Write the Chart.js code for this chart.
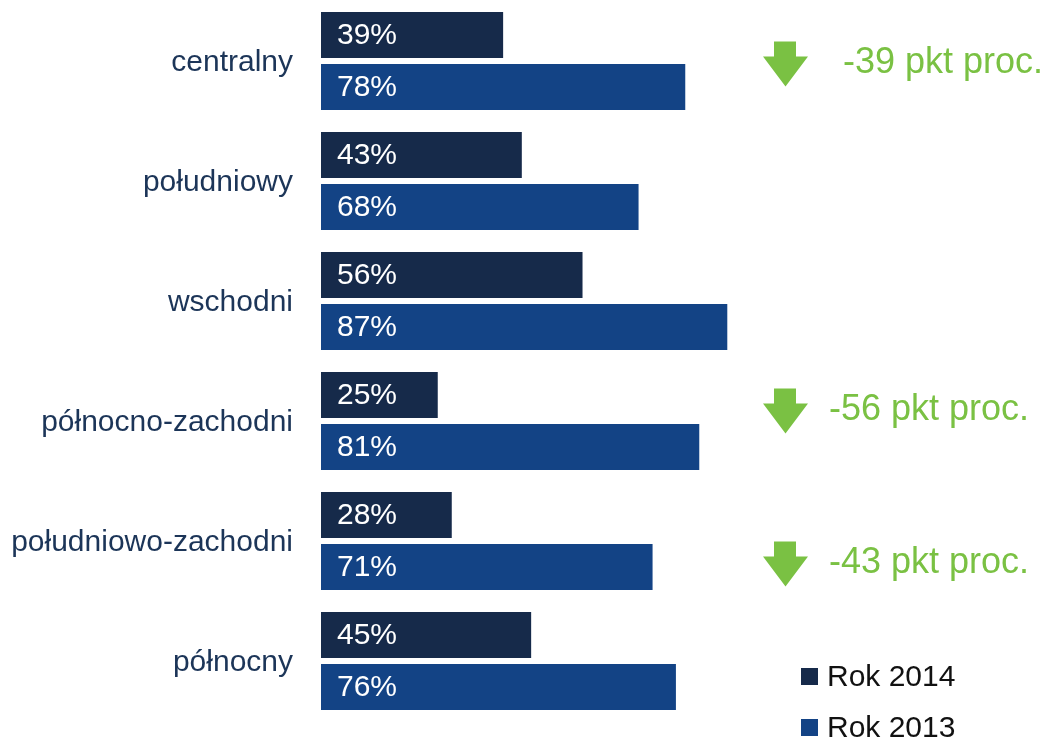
<!DOCTYPE html>
<html>
<head>
<meta charset="utf-8">
<script src="https://cdn.jsdelivr.net/npm/chart.js@4.4.0/dist/chart.umd.min.js"></script>
<style>
  html, body { margin: 0; padding: 0; background: #fff; }
  #wrap { width: 1045px; height: 741px; }
</style>
</head>
<body>
<div id="wrap"><canvas id="chart" width="1045" height="741"></canvas></div>
<script>
const regions = ["centralny", "południowy", "wschodni", "północno-zachodni", "południowo-zachodni", "północny"];
const rok2014 = [39, 43, 56, 25, 28, 45];
const rok2013 = [78, 68, 87, 81, 71, 76];
const changes = ["-39 pkt proc.", "", "", "-56 pkt proc.", "-43 pkt proc.", ""];

const FONT = "'Liberation Sans', Arial, sans-serif";
const GREEN = "#7ac143";

// where each change note sits, relative to its category centre
const notePos = {
  0: { dy: 3, textX: 843 },
  3: { dy: -10, textX: 829 },
  4: { dy: 23, textX: 829 }
};

const barLabels = {
  id: "barLabels",
  afterDatasetsDraw(chart) {
    const ctx = chart.ctx;
    ctx.save();
    ctx.fillStyle = "#fff";
    ctx.font = "30px " + FONT;
    ctx.textBaseline = "middle";
    ctx.textAlign = "left";
    chart.data.datasets.forEach(function (ds, i) {
      chart.getDatasetMeta(i).data.forEach(function (bar, j) {
        ctx.fillText(ds.data[j] + "%", bar.base + 16, bar.y + 1);
      });
    });
    ctx.restore();
  }
};

const changeNotes = {
  id: "changeNotes",
  afterDraw(chart) {
    const ctx = chart.ctx;
    const y = chart.scales.y;
    ctx.save();
    changes.forEach(function (txt, i) {
      if (!txt) return;
      const p = notePos[i];
      const cy = y.getPixelForValue(i) + p.dy;
      const top = cy - 22.5;
      ctx.fillStyle = GREEN;
      ctx.beginPath();
      ctx.moveTo(774, top);
      ctx.lineTo(796, top);
      ctx.lineTo(796, top + 15);
      ctx.lineTo(808, top + 15);
      ctx.lineTo(785.5, top + 45);
      ctx.lineTo(763, top + 15);
      ctx.lineTo(774, top + 15);
      ctx.closePath();
      ctx.fill();
      ctx.font = "36px " + FONT;
      ctx.textBaseline = "alphabetic";
      ctx.textAlign = "left";
      ctx.fillText(txt, p.textX, cy + 9);
    });
    ctx.restore();
  }
};

const sideLegend = {
  id: "sideLegend",
  afterDraw(chart) {
    const ctx = chart.ctx;
    ctx.save();
    ctx.font = "30px " + FONT;
    ctx.textBaseline = "alphabetic";
    ctx.textAlign = "left";
    chart.data.datasets.forEach(function (ds, i) {
      const base = 686 + i * 51;
      ctx.fillStyle = ds.backgroundColor;
      ctx.fillRect(801, base - 18, 17, 17);
      ctx.fillStyle = "#111";
      ctx.fillText(ds.label, 827, base);
    });
    ctx.restore();
  }
};

new Chart(document.getElementById("chart").getContext("2d"), {
  type: "bar",
  data: {
    labels: regions,
    datasets: [
      {
        label: "Rok 2014",
        data: rok2014,
        backgroundColor: "#162a4a",
        barPercentage: 0.885,
        categoryPercentage: 0.867
      },
      {
        label: "Rok 2013",
        data: rok2013,
        backgroundColor: "#134385",
        barPercentage: 0.885,
        categoryPercentage: 0.867
      }
    ]
  },
  options: {
    indexAxis: "y",
    responsive: false,
    animation: false,
    layout: {
      padding: { top: 1, right: 257, bottom: 20, left: 0 }
    },
    plugins: {
      legend: { display: false },
      tooltip: { enabled: false }
    },
    scales: {
      x: {
        min: 0,
        max: 100,
        display: false
      },
      y: {
        grid: { display: false, drawTicks: false },
        border: { display: false },
        afterFit: function (scale) {
          scale.width = 321;
          scale.paddingTop = 0;
          scale.paddingBottom = 0;
        },
        ticks: {
          color: "#1c3558",
          padding: 28,
          labelOffset: 2,
          font: { family: FONT, size: 30 }
        }
      }
    }
  },
  plugins: [barLabels, changeNotes, sideLegend]
});
</script>
</body>
</html>
